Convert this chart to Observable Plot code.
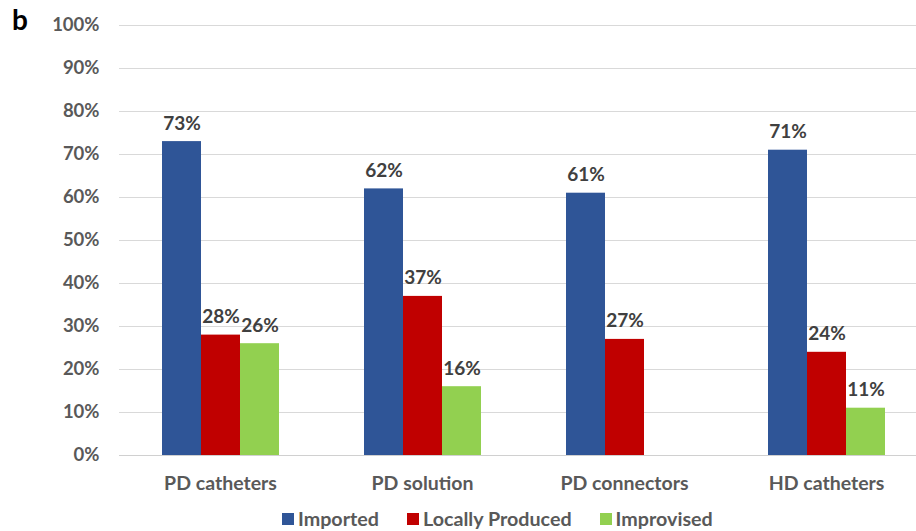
<!DOCTYPE html>
<html>
<head>
<meta charset="utf-8">
<script src="https://cdn.jsdelivr.net/npm/d3@7"></script>
<script src="https://cdn.jsdelivr.net/npm/@observablehq/plot@0.6"></script>
<style>
  html, body { margin: 0; padding: 0; background: #fff; overflow: hidden; }
  #wrap { position: relative; width: 916px; height: 531px; font-family: Lato, "Open Sans", sans-serif; }
  #panel { position: absolute; left: 12px; top: 2px; font-size: 28px; font-weight: bold; color: #000; }
  #legend { position: absolute; left: 282px; top: 507px; display: flex; gap: 28px; font-size: 19.7px; font-weight: bold; color: #595959; }
  #legend span.item { display: flex; align-items: center; gap: 4px; }
  #legend span.sw { width: 12px; height: 12px; display: inline-block; }
  svg { overflow: hidden; }
</style>
</head>
<body>
<div id="wrap">
  <div id="chart"></div>
  <div id="panel">b</div>
  <div id="legend"></div>
</div>
<script>
const categories = ["PD catheters", "PD solution", "PD connectors", "HD catheters"];
const series = ["Imported", "Locally Produced", "Improvised"];
const colors = ["#2F5597", "#C00000", "#92D050"];
const imported = [73, 62, 61, 71];
const locallyProduced = [28, 37, 27, 24];
const improvised = [26, 16, null, 11];
const yTicks = [0, 10, 20, 30, 40, 50, 60, 70, 80, 90, 100];

const values = [imported, locallyProduced, improvised];
const data = [];
categories.forEach((c, i) => {
  series.forEach((s, j) => {
    const v = values[j][i];
    if (v != null) data.push({category: c, series: s, value: v});
  });
});

const fontFamily = "Lato, 'Open Sans', sans-serif";

const chart = Plot.plot({
  width: 916,
  height: 500,
  marginTop: 25,
  marginBottom: 45,
  marginLeft: 118,
  marginRight: 0,
  style: {fontFamily, background: "transparent", overflow: "hidden"},
  fx: {domain: categories, range: [118, 928], padding: 0, label: null},
  x: {domain: series, paddingInner: 0, paddingOuter: 1.06, axis: null},
  y: {domain: [0, 100], label: null},
  color: {domain: series, range: colors},
  marks: [
    Plot.ruleY(yTicks.slice(1), {stroke: "#D9D9D9", strokeWidth: 1}),
    Plot.ruleY([0], {stroke: "#D0D0D0", strokeWidth: 1.2}),
    Plot.barY(data, {fx: "category", x: "series", y: "value", fill: "series", inset: 0}),
    Plot.text(data, {fx: "category", x: "series", y: "value", text: d => d.value + "%",
      dy: -18, fill: "#404040", fontWeight: "bold", fontSize: 19}),
    Plot.axisY(yTicks, {tickSize: 0, tickPadding: 20, tickFormat: d => d + "%",
      fill: "#595959", fontWeight: "bold", fontSize: 18.5, label: null}),
    Plot.axisFx({anchor: "bottom", tickSize: 0, tickPadding: 21, fill: "#595959",
      fontWeight: "bold", fontSize: 19.5, label: null})
  ]
});
document.getElementById("chart").appendChild(chart);

const legend = document.getElementById("legend");
series.forEach((s, j) => {
  const item = document.createElement("span");
  item.className = "item";
  const sw = document.createElement("span");
  sw.className = "sw";
  sw.style.background = colors[j];
  item.appendChild(sw);
  const t = document.createElement("span");
  t.textContent = s;
  item.appendChild(t);
  legend.appendChild(item);
});
</script>
</body>
</html>
